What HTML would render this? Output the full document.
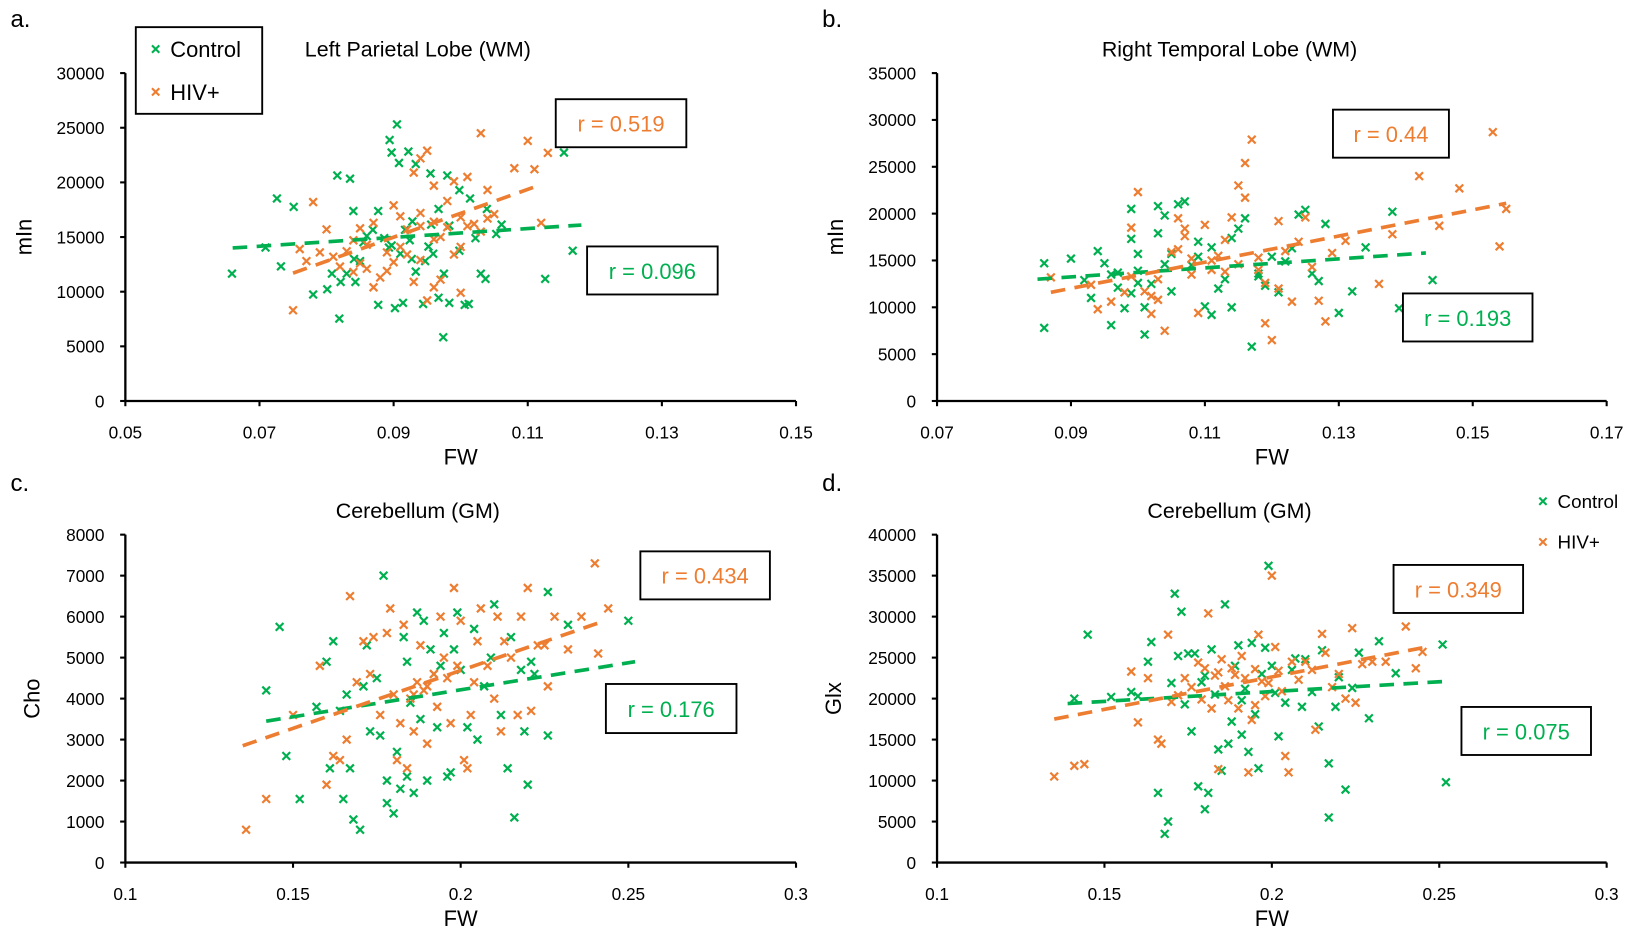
<!DOCTYPE html>
<html><head><meta charset="utf-8"><style>
html,body{margin:0;padding:0;background:#fff;}
svg{display:block;font-family:"Liberation Sans",Calibri,sans-serif;}
</style></head><body>
<svg id="fig" width="1638" height="944" viewBox="0 0 1568 904" preserveAspectRatio="none" xmlns="http://www.w3.org/2000/svg"></svg>
<script>
// ---------- Panel a: Left Parietal Lobe (WM) ----------
const aXTicks=[0.05,0.07,0.09,0.11,0.13,0.15];
const aXTickLabels=["0.05","0.07","0.09","0.11","0.13","0.15"];
const aYTicks=[0,5000,10000,15000,20000,25000,30000];
const aCtrlX=[0.0659,0.0726,0.0751,0.0732,0.0709,0.0816,0.0835,0.086,0.0821,0.0841,0.0855,0.0877,0.0894,0.0905,0.0897,0.0908,0.0922,0.0933,0.0955,0.098,0.0998,0.1014,0.1039,0.1061,0.1053,0.1022,0.0983,0.0952,0.0933,0.0914,0.0902,0.0877,0.0819,0.0843,0.0917,0.0928,0.0967,0.0998,0.103,0.0975,0.0967,0.0983,0.1006,0.0974,0.0944,0.085,0.0893,0.0924,0.0956,0.0869,0.0886,0.0897,0.091,0.0927,0.0947,0.0959,0.1154,0.1126,0.1167,0.078,0.0801,0.0808,0.083,0.1012,0.1037,0.084];
const aCtrlY=[11650,18530,17760,12320,14040,20630,20340,15090,10890,12990,14520,17380,23880,25310,22730,21780,22820,21680,20820,20630,19290,18530,17570,16140,15280,14900,16040,14130,11840,8980,8500,8790,7540,10890,15660,16430,17570,13750,11650,11650,9450,8980,8790,5830,8880,12800,14040,14710,16140,15660,14900,14230,13470,12990,12800,13470,22730,11170,13750,9740,10220,11650,11650,8880,11170,17380];
const aHivX=[0.075,0.078,0.095,0.094,0.093,0.099,0.101,0.104,0.103,0.108,0.111,0.110,0.113,0.112,0.104,0.102,0.100,0.098,0.096,0.094,0.090,0.087,0.085,0.083,0.081,0.080,0.079,0.076,0.077,0.082,0.084,0.086,0.088,0.090,0.091,0.092,0.094,0.096,0.097,0.098,0.099,0.100,0.096,0.093,0.089,0.087,0.085,0.092,0.094,0.096,0.101,0.103,0.105,0.100,0.091,0.095,0.097,0.089,0.086,0.084];
const aHivY=[8300,18200,22900,22200,20900,20100,20500,19300,24500,21300,21200,23800,22700,16300,16700,16200,16800,18300,19700,17200,17900,16300,15800,13700,13200,15700,13600,13900,12800,12300,11800,12100,11300,12700,14100,13400,12900,14800,11100,15900,13400,9900,10400,10900,11900,10400,12600,15700,16000,16400,16000,15500,17100,14100,16900,9200,15000,13600,14300,14700];
const aCtrlTrend=[[0.066,14000],[0.118,16100]];
const aHivTrend=[[0.075,11700],[0.112,19800]];

// ---------- Panel b: Right Temporal Lobe (WM) ----------
const bXTicks=[0.07,0.09,0.11,0.13,0.15,0.17];
const bXTickLabels=["0.07","0.09","0.11","0.13","0.15","0.17"];
const bYTicks=[0,5000,10000,15000,20000,25000,30000,35000];
const bCtrlX=[0.086,0.086,0.090,0.092,0.093,0.094,0.095,0.096,0.096,0.097,0.098,0.099,0.099,0.100,0.100,0.101,0.101,0.102,0.103,0.103,0.104,0.104,0.105,0.105,0.106,0.107,0.108,0.109,0.110,0.111,0.112,0.113,0.114,0.114,0.115,0.116,0.117,0.118,0.119,0.120,0.121,0.122,0.123,0.124,0.125,0.126,0.127,0.128,0.130,0.132,0.134,0.138,0.139,0.144,0.109,0.111,0.097,0.099,0.100,0.118];
const bCtrlY=[14700,7800,15200,12900,11000,16000,14700,13500,8100,12100,9900,20500,17300,15700,13900,7100,10000,12500,17900,20800,19800,14600,15700,11700,21000,21300,14500,15400,10100,9200,12000,13000,10000,17400,18400,19500,5800,13600,12300,15400,11600,14900,16300,19900,20400,13600,12800,18900,9400,11700,16400,20200,9900,12900,17000,16400,13700,11500,12600,13300];
const bHivX=[0.087,0.093,0.094,0.096,0.098,0.099,0.100,0.101,0.102,0.102,0.103,0.104,0.105,0.106,0.107,0.107,0.108,0.108,0.109,0.110,0.111,0.111,0.112,0.113,0.114,0.115,0.116,0.116,0.117,0.118,0.119,0.119,0.120,0.121,0.121,0.122,0.123,0.124,0.125,0.126,0.127,0.128,0.129,0.131,0.136,0.138,0.142,0.145,0.148,0.153,0.154,0.155,0.106,0.113,0.099,0.103,0.115,0.118];
const bHivY=[13200,12400,9800,10600,11600,18500,22300,11700,11200,9300,10800,7500,15900,19500,18400,17600,13500,15200,9400,18800,15000,14000,15500,17200,19600,23000,25400,21700,27900,15300,12600,8300,6500,19200,12000,16000,10600,17000,19600,14300,10700,8500,15800,17100,12500,17800,24000,18700,22700,28700,16500,20500,16200,13800,13300,13000,14600,14000];
const bCtrlTrend=[[0.085,13000],[0.143,15800]];
const bHivTrend=[[0.087,11600],[0.155,21100]];

// ---------- Panel c: Cerebellum (GM), Cho ----------
const cXTicks=[0.1,0.15,0.2,0.25,0.3];
const cXTickLabels=["0.1","0.15","0.2","0.25","0.3"];
const cYTicks=[0,1000,2000,3000,4000,5000,6000,7000,8000];
const cCtrlX=[0.142,0.146,0.148,0.152,0.157,0.160,0.161,0.162,0.164,0.165,0.166,0.167,0.168,0.170,0.171,0.172,0.175,0.176,0.177,0.178,0.180,0.181,0.182,0.183,0.184,0.185,0.186,0.187,0.188,0.189,0.190,0.191,0.192,0.193,0.195,0.196,0.197,0.198,0.199,0.200,0.202,0.204,0.205,0.207,0.209,0.210,0.212,0.214,0.215,0.216,0.218,0.219,0.220,0.221,0.222,0.226,0.226,0.232,0.250,0.173,0.178,0.184,0.194];
const cCtrlY=[4200,5750,2600,1550,3800,4900,2300,5400,3700,1550,4100,2300,1050,800,4300,5300,4500,3100,7000,1450,1200,2700,1800,5500,4900,3900,1700,6100,3500,5900,2000,5200,4600,3300,5600,2100,2200,5200,6100,4700,3300,5700,3000,4300,5000,6300,3600,2300,5500,1100,4700,3200,1900,4900,4600,3100,6600,5800,5900,3200,2000,2100,4800];
const cHivX=[0.136,0.142,0.150,0.158,0.160,0.162,0.164,0.166,0.167,0.169,0.171,0.173,0.174,0.176,0.178,0.179,0.180,0.181,0.182,0.183,0.184,0.185,0.186,0.187,0.188,0.189,0.190,0.192,0.193,0.194,0.195,0.196,0.197,0.198,0.199,0.200,0.201,0.202,0.203,0.204,0.205,0.206,0.208,0.210,0.211,0.212,0.213,0.215,0.217,0.218,0.220,0.221,0.223,0.225,0.226,0.228,0.232,0.236,0.240,0.241,0.244,0.186,0.190];
const cHivY=[800,1550,3600,4800,1900,2600,2500,3000,6500,4400,5400,4600,5500,3600,5600,6200,4100,2500,3400,5800,2300,4000,3200,4400,5300,4200,2900,4600,3800,6000,5000,4500,3400,6700,4800,5900,2500,2300,3600,4400,5400,6200,4800,4000,6000,3200,5400,5000,3600,6000,6700,3700,5300,5300,4300,6000,5200,6000,7300,5100,6200,4100,4300];
const cCtrlTrend=[[0.142,3450],[0.252,4900]];
const cHivTrend=[[0.135,2850],[0.243,5900]];

// ---------- Panel d: Cerebellum (GM), Glx ----------
const dXTicks=[0.1,0.15,0.2,0.25,0.3];
const dXTickLabels=["0.1","0.15","0.2","0.25","0.3"];
const dYTicks=[0,5000,10000,15000,20000,25000,30000,35000,40000];
const dCtrlX=[0.141,0.145,0.152,0.158,0.160,0.163,0.164,0.166,0.168,0.169,0.170,0.171,0.172,0.173,0.174,0.175,0.176,0.177,0.178,0.179,0.180,0.181,0.182,0.183,0.184,0.185,0.186,0.187,0.188,0.189,0.190,0.191,0.192,0.193,0.194,0.195,0.196,0.197,0.198,0.199,0.200,0.201,0.202,0.204,0.206,0.207,0.209,0.210,0.212,0.214,0.215,0.217,0.217,0.219,0.220,0.222,0.224,0.226,0.229,0.232,0.237,0.251,0.252,0.180,0.191];
const dCtrlY=[20000,27800,20200,20800,20300,24500,26900,8500,3500,5000,21900,32800,25200,30600,19300,25500,16000,25500,9300,22000,6500,8500,26000,20500,13800,11200,31500,14500,17200,24000,26500,15600,21200,13500,26800,18100,11500,23000,26200,36200,24000,20700,15400,19500,23500,24900,19000,24800,20800,16600,25900,12100,5500,19000,22600,8900,21300,25600,17600,27000,23100,26600,9800,22800,19800];
const dHivX=[0.135,0.141,0.144,0.158,0.160,0.163,0.166,0.167,0.169,0.170,0.172,0.174,0.176,0.178,0.179,0.180,0.181,0.182,0.183,0.184,0.185,0.186,0.187,0.188,0.189,0.190,0.191,0.192,0.193,0.194,0.195,0.196,0.197,0.198,0.199,0.200,0.201,0.202,0.203,0.204,0.205,0.206,0.208,0.210,0.212,0.213,0.215,0.216,0.218,0.220,0.222,0.224,0.225,0.227,0.230,0.234,0.240,0.243,0.245,0.184,0.195];
const dHivY=[10500,11800,12000,23300,17100,22500,15000,14500,27800,19600,20400,22500,21400,24400,19900,23700,30400,18800,22800,11400,24800,21500,19800,23700,22900,18800,25200,22500,11000,17400,23600,27800,22100,20300,21900,35000,26300,23400,20900,13000,11000,24500,22300,24500,23500,16200,27900,25600,21400,23000,20000,28600,19500,24200,24500,24500,28800,23700,25700,23200,19200];
const dCtrlTrend=[[0.139,19400],[0.252,22100]];
const dHivTrend=[[0.135,17500],[0.245,26200]];

const GREEN="#00b050", ORANGE="#ed7d31";
const NS="http://www.w3.org/2000/svg";
const svg=document.getElementById('fig');
function mk(tag,attrs,parent){const e=document.createElementNS(NS,tag);for(const k in attrs)e.setAttribute(k,attrs[k]);(parent||svg).appendChild(e);return e;}

function panel(p){
  const g=mk('g',{});
  
  
  const xs=v=>p.L+(v-p.xMin)/(p.xMax-p.xMin)*(p.R-p.L);
  const ys=v=>p.B-(v-p.yMin)/(p.yMax-p.yMin)*(p.B-p.T);
  const ax=mk('line',{x1:p.L,y1:p.B,x2:p.R,y2:p.B,stroke:'#000','stroke-width':2.2},g);
  
  
  const ay=mk('line',{x1:p.L,y1:p.T,x2:p.L,y2:p.B,stroke:'#000','stroke-width':2.2},g);
  
  
  p.xTicks.forEach((v,i)=>{
    mk('line',{x1:xs(v),y1:p.B,x2:xs(v),y2:p.B+5,stroke:'#000','stroke-width':2},g);
    const t=mk('text',{x:xs(v),y:p.B+36,'font-size':16.5,'text-anchor':'middle'},g);
    t.textContent=p.xLabels[i];
    
    
  });
  p.yTicks.forEach(v=>{
    mk('line',{x1:p.L-5,y1:ys(v),x2:p.L,y2:ys(v),stroke:'#000','stroke-width':2},g);
    const t=mk('text',{x:p.L-20,y:ys(v)+6,'font-size':16.5,'text-anchor':'end'},g);
    t.textContent=String(v);
    
    
  });
  const xt=mk('text',{x:(p.L+p.R)/2,y:p.B+61,'font-size':21,'text-anchor':'middle'},g);
  xt.textContent='FW';
  
  
  const yt=mk('text',{x:0,y:0,'font-size':21,'text-anchor':'middle',transform:`translate(${p.yTitleX},${(p.T+p.B)/2}) rotate(-90)`},g);
  yt.textContent=p.yTitle;
  
  
  const tt=mk('text',{x:p.titleX,y:p.titleY,'font-size':20.5,'text-anchor':'middle'},g);
  tt.textContent=p.title;
  
  
  const lt=mk('text',{x:p.letterX,y:p.letterY,'font-size':23},g);
  lt.textContent=p.letter;
  
  
  function series(X,Y,col,name){
    const sg=mk('g',{stroke:col,'stroke-width':2.1,fill:'none'},g);
    
    
    X.forEach((v,i)=>{
      const cx=xs(v),cy=ys(Y[i]),s=3.7;
      const m=mk('path',{d:`M${cx-s},${cy-s}L${cx+s},${cy+s}M${cx-s},${cy+s}L${cx+s},${cy-s}`},sg);
      
      
    });
  }
  series(p.cx,p.cy,GREEN,'control');
  series(p.hx,p.hy,ORANGE,'hiv');
  function trend(T,col,name){
    const l=mk('line',{x1:xs(T[0][0]),y1:ys(T[0][1]),x2:xs(T[1][0]),y2:ys(T[1][1]),stroke:col,'stroke-width':3.5,'stroke-dasharray':'14 9'},g);
    
    
  }
  trend(p.ct,GREEN,'control');
  trend(p.ht,ORANGE,'hiv');
  function rbox(b,col,txt,name){
    const r=mk('rect',{x:b[0],y:b[1],width:b[2],height:b[3],fill:'#fff',stroke:'#000','stroke-width':1.8},g);
    
    
    const t=mk('text',{x:b[0]+b[2]/2,y:b[1]+b[3]/2+8,'font-size':21,'text-anchor':'middle',fill:col},g);
    t.textContent=txt;
    
    
  }
  rbox(p.hb,ORANGE,p.hr,'hiv');
  rbox(p.cb,GREEN,p.cr,'control');
}

panel({id:'a',L:120,R:762,T:70,B:384,xMin:0.05,xMax:0.15,yMin:0,yMax:30000,xTicks:aXTicks,xLabels:aXTickLabels,yTicks:aYTicks,
  yTitle:'mIn',yTitleX:30,title:'Left Parietal Lobe (WM)',titleX:400,titleY:54,letter:'a.',letterX:10,letterY:26,
  cx:aCtrlX,cy:aCtrlY,hx:aHivX,hy:aHivY,ct:aCtrlTrend,ht:aHivTrend,hb:[532,95,125,46],hr:'r = 0.519',cb:[562,236,125,46],cr:'r = 0.096'});
panel({id:'b',L:897,R:1538,T:70,B:384,xMin:0.07,xMax:0.17,yMin:0,yMax:35000,xTicks:bXTicks,xLabels:bXTickLabels,yTicks:bYTicks,
  yTitle:'mIn',yTitleX:807,title:'Right Temporal Lobe (WM)',titleX:1177,titleY:54,letter:'b.',letterX:787,letterY:26,
  cx:bCtrlX,cy:bCtrlY,hx:bHivX,hy:bHivY,ct:bCtrlTrend,ht:bHivTrend,hb:[1276,105,111,46],hr:'r = 0.44',cb:[1343,281,124,46],cr:'r = 0.193'});
panel({id:'c',L:120,R:762,T:512,B:826,xMin:0.1,xMax:0.3,yMin:0,yMax:8000,xTicks:cXTicks,xLabels:cXTickLabels,yTicks:cYTicks,
  yTitle:'Cho',yTitleX:38,title:'Cerebellum (GM)',titleX:400,titleY:496,letter:'c.',letterX:10,letterY:470,
  cx:cCtrlX,cy:cCtrlY,hx:cHivX,hy:cHivY,ct:cCtrlTrend,ht:cHivTrend,hb:[613,528,124,46],hr:'r = 0.434',cb:[580,655,125,47],cr:'r = 0.176'});
panel({id:'d',L:897,R:1538,T:512,B:826,xMin:0.1,xMax:0.3,yMin:0,yMax:40000,xTicks:dXTicks,xLabels:dXTickLabels,yTicks:dYTicks,
  yTitle:'Glx',yTitleX:805,title:'Cerebellum (GM)',titleX:1177,titleY:496,letter:'d.',letterX:787,letterY:470,
  cx:dCtrlX,cy:dCtrlY,hx:dHivX,hy:dHivY,ct:dCtrlTrend,ht:dHivTrend,hb:[1334,541,124,46],hr:'r = 0.349',cb:[1399,677,124,46],cr:'r = 0.075'});

function legend(x,y,fs,gap,boxed,name){
  const g=mk('g',{});
  
  
  if(boxed) mk('rect',{x:130,y:26,width:121,height:83,fill:'#fff',stroke:'#000','stroke-width':1.8},g);
  [['Control',GREEN],['HIV+',ORANGE]].forEach((e,i)=>{
    const cy=y+i*gap, s=3.5;
    mk('path',{d:`M${x-s},${cy-s}L${x+s},${cy+s}M${x-s},${cy+s}L${x+s},${cy-s}`,stroke:e[1],'stroke-width':2},g);
    const t=mk('text',{x:x+14,y:cy+(fs*0.36),'font-size':fs},g);
    t.textContent=e[0];
    
    
  });
}
legend(149,47,21,41,true,'legend-a');
legend(1477,480,18,39,false,'legend-d');
</script>
</body></html>
